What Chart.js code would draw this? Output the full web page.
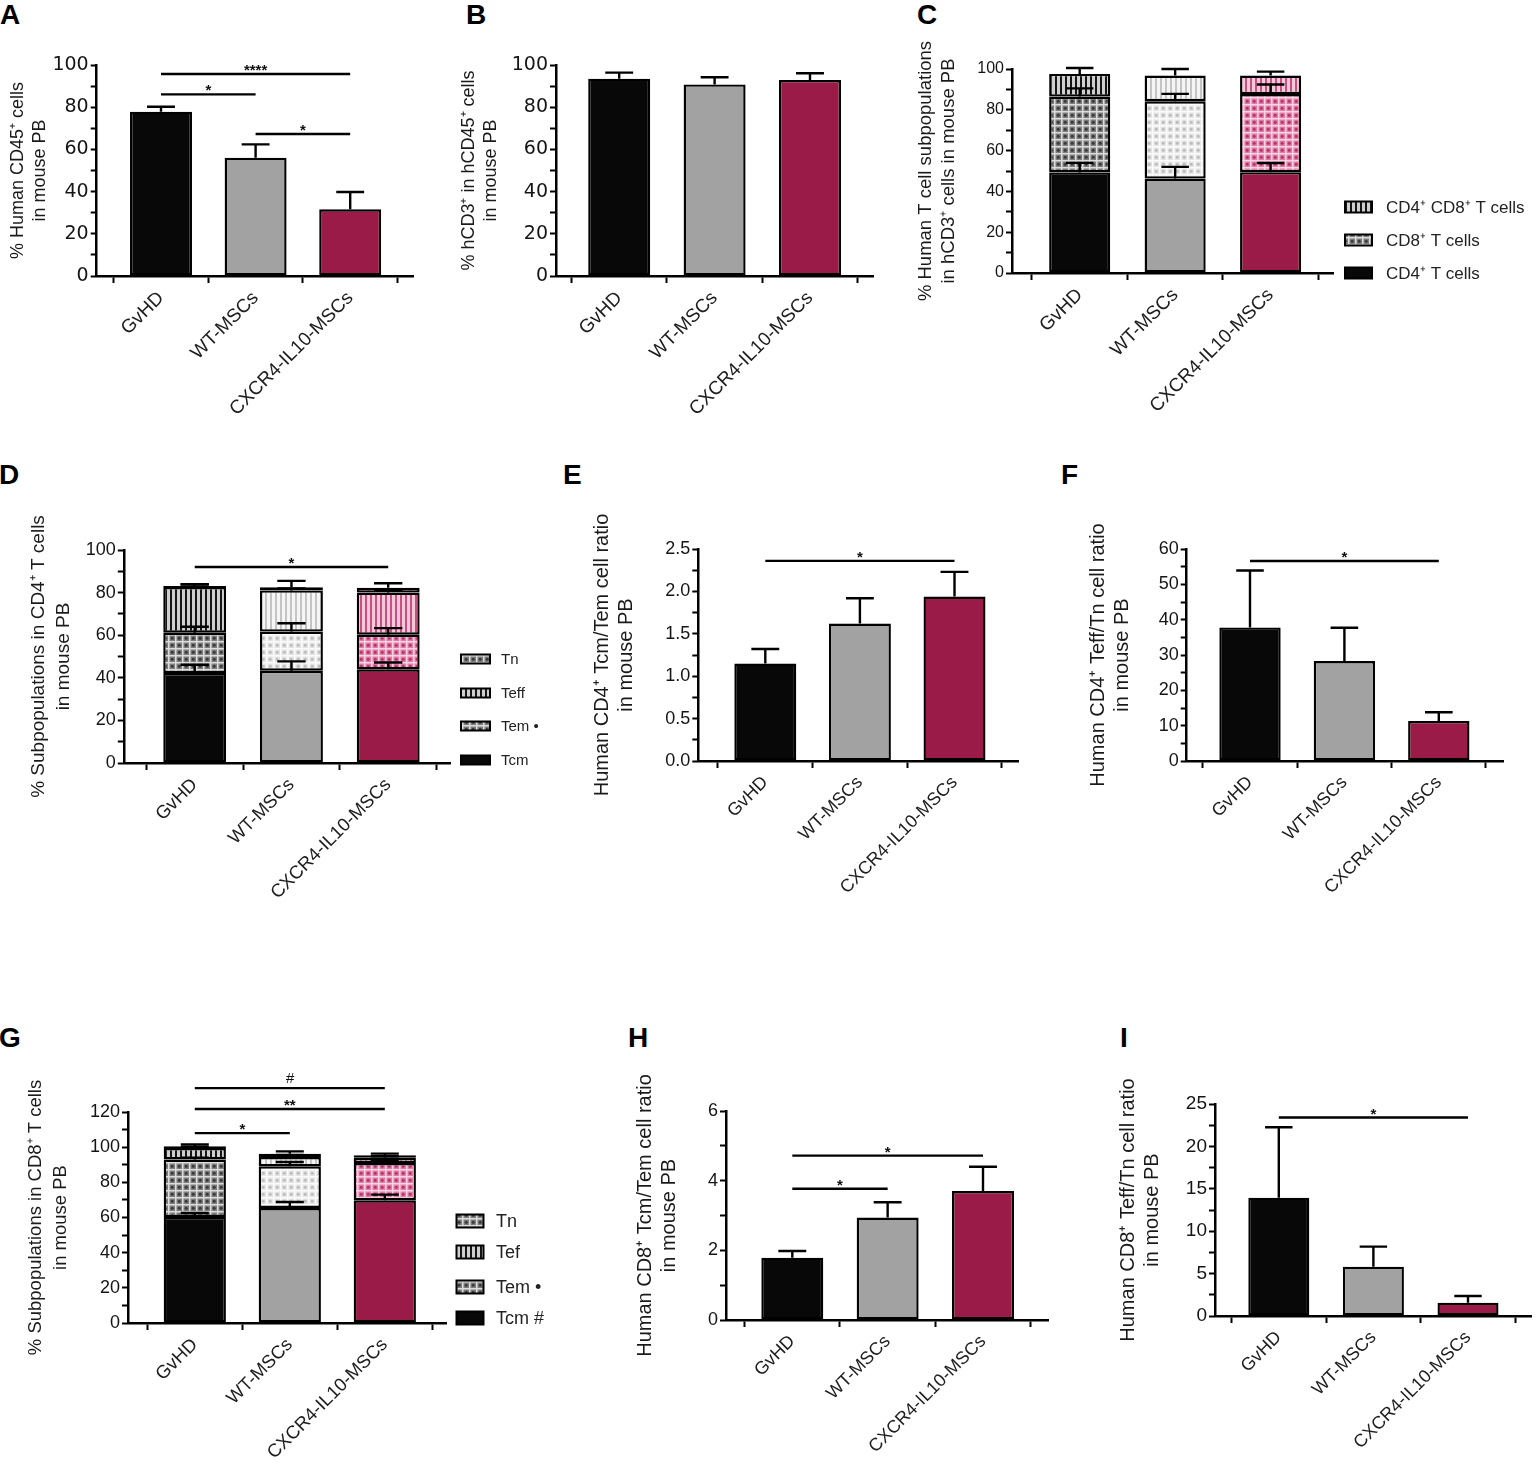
<!DOCTYPE html>
<html><head><meta charset="utf-8">
<script src="https://cdn.jsdelivr.net/npm/chart.js@4"></script>
<style>
html,body{margin:0;padding:0;background:#fff;}
body{width:1537px;height:1468px;position:relative;overflow:hidden;font-family:'Liberation Sans',Arial,sans-serif;}
canvas{position:absolute;}
.lbl{position:absolute;font-weight:bold;font-size:28px;line-height:28px;color:#000;font-family:'Liberation Sans',Arial,sans-serif;}
</style></head><body>
<div class="lbl" style="left:0px;top:1px">A</div>
<div class="lbl" style="left:466px;top:1px">B</div>
<div class="lbl" style="left:917px;top:1px">C</div>
<div class="lbl" style="left:-1px;top:461px">D</div>
<div class="lbl" style="left:563px;top:461px">E</div>
<div class="lbl" style="left:1061px;top:461px">F</div>
<div class="lbl" style="left:-1px;top:1024px">G</div>
<div class="lbl" style="left:628px;top:1024px">H</div>
<div class="lbl" style="left:1120px;top:1024px">I</div>
<script>
Chart.defaults.animation = false;
Chart.defaults.events = [];
Chart.defaults.font.family = "'Liberation Sans', Arial, sans-serif";
Chart.defaults.color = '#151515';

const categories = ['GvHD', 'WT-MSCs', 'CXCR4-IL10-MSCs'];

// A
const ticksA = [0, 20, 40, 60, 80, 100];
const cd45Mean = [77.9, 56.1, 31.6];
const cd45Sem = [2.3, 6.3, 8.2];
const sigA = [[0, 2, 95.7, '****'], [0, 1, 86.1, '*'], [1, 2, 67.3, '*']];
// B
const ticksB = [0, 20, 40, 60, 80, 100];
const cd3Mean = [93.5, 90.8, 92.9];
const cd3Sem = [2.9, 3.4, 3.2];
// C
const ticksC = [0, 20, 40, 60, 80, 100];
const seriesC = ['CD4⁺ T cells', 'CD8⁺ T cells', 'CD4⁺ CD8⁺ T cells'];
const cCd4 = [49.3, 46.3, 49.4], cCd4Sem = [4.7, 5.7, 4.5];
const cCd8 = [37.2, 37.9, 38.3], cCd8Sem = [4.0, 3.6, 4.7];
const cDp = [11.1, 12.6, 9.1], cDpSem = [2.9, 3.2, 1.9];
// D
const ticksD = [0, 20, 40, 60, 80, 100];
const seriesD = ['Tcm', 'Tem •', 'Teff', 'Tn'];
const dTcm = [42.2, 43.3, 44.0], dTcmSem = [3.9, 4.4, 3.2];
const dTem = [19.0, 18.4, 16.2], dTemSem = [2.8, 3.9, 3.1];
const dTeff = [21.4, 19.3, 19.8], dTeffSem = [1.2, 1.0, 1.0];
const dTn = [0.5, 1.5, 2.3], dTnSem = [0.8, 3.0, 2.1];
const sigD = [[0, 2, 92, '*']];
// E
const ticksE = [0, 0.5, 1, 1.5, 2, 2.5];
const eRatio = [1.15, 1.62, 1.94], eSem = [0.17, 0.30, 0.29];
const sigE = [[0, 2, 2.36, '*']];
// F
const ticksF = [0, 10, 20, 30, 40, 50, 60];
const fRatio = [37.8, 28.3, 11.3], fSem = [16.1, 9.4, 2.5];
const sigF = [[0, 2, 56.6, '*']];
// G
const ticksG = [0, 20, 40, 60, 80, 100, 120];
const seriesG = ['Tcm #', 'Tem •', 'Tef', 'Tn'];
const gTcm = [60.3, 65.4, 69.8], gTcmSem = [2.3, 3.4, 3.2];
const gTem = [32.7, 23.7, 21.2], gTemSem = [1.0, 2.5, 1.5];
const gTef = [6.5, 5.3, 3.0], gTefSem = [0.6, 1.2, 0.8];
const gTn = [1.0, 1.9, 1.4], gTnSem = [1.0, 1.3, 0.9];
const sigG = [[0, 2, 133.6, '#'], [0, 2, 121.7, '**'], [0, 1, 108, '*']];
// H
const ticksH = [0, 2, 4, 6];
const hRatio = [1.79, 2.94, 3.70], hSem = [0.19, 0.44, 0.70];
const sigH = [[0, 2, 4.72, '*'], [0, 1, 3.77, '*']];
// I
const ticksI = [0, 5, 10, 15, 20, 25];
const iRatio = [13.95, 5.82, 1.57], iSem = [8.3, 2.36, 0.79];
const sigI = [[0, 2, 23.4, '*']];

// ---------- styles ----------
const barColors = ['#080808', '#a2a2a2', '#9a1b47'];
function checker(base, line, dot) {
  const n = 7, c = document.createElement('canvas'); c.width = n; c.height = n;
  const g = c.getContext('2d');
  g.fillStyle = base; g.fillRect(0, 0, n, n);
  g.fillStyle = line; g.fillRect(0, 0, n, 1.5); g.fillRect(0, 0, 1.5, n);
  g.fillStyle = dot; g.beginPath(); g.arc(4.2, 4.2, 1.5, 0, Math.PI * 2); g.fill();
  return g.createPattern(c, 'repeat');
}
function stripes(bg, line) {
  const n = 5, c = document.createElement('canvas'); c.width = n; c.height = n;
  const g = c.getContext('2d');
  g.fillStyle = bg; g.fillRect(0, 0, n, n);
  g.fillStyle = line; g.fillRect(0, 0, 2, n);
  return g.createPattern(c, 'repeat');
}
const checkerFills = [checker('#7d7d7d', '#dcdcdc', '#3a3a3a'), checker('#e4e4e4', '#fbfbfb', '#bcbcbc'), checker('#e07ba4', '#f8d5e4', '#b8336c')];
const stripeFills = [stripes('#cfcfcf', '#151515'), stripes('#f5f5f5', '#c4c4c4'), stripes('#f6c9da', '#c74f82')];

function xy(vals) { return vals.map((v, i) => ({ x: i, y: v })); }

function makeExtras(o) {
  return {
    id: 'extras',
    afterDatasetsDraw(chart) {
      const ctx = chart.ctx, ys = chart.scales.y;
      ctx.save();
      ctx.strokeStyle = '#000'; ctx.lineWidth = 2.4;
      const cum = [0, 0, 0];
      o.series.forEach((s, di) => {
        const meta = chart.getDatasetMeta(di);
        s.vals.forEach((v, i) => {
          cum[i] += v;
          const bar = meta.data[i];
          const yTop = ys.getPixelForValue(cum[i]);
          const yErr = ys.getPixelForValue(cum[i] + s.sem[i]);
          const half = bar.width * 0.45 / 2;
          ctx.beginPath();
          ctx.moveTo(bar.x, yTop); ctx.lineTo(bar.x, yErr);
          ctx.moveTo(bar.x - half, yErr); ctx.lineTo(bar.x + half, yErr);
          ctx.stroke();
        });
      });
      ctx.restore();
    },
    afterDraw(chart) {
      const ctx = chart.ctx, xs = chart.scales.x, ys = chart.scales.y;
      ctx.save();
      ctx.strokeStyle = '#000'; ctx.lineWidth = 2.4;
      (o.sig || []).forEach(([a, b, v, t]) => {
        const x0 = xs.getPixelForValue(a), x1 = xs.getPixelForValue(b), y = ys.getPixelForValue(v);
        ctx.beginPath(); ctx.moveTo(x0, y); ctx.lineTo(x1, y); ctx.stroke();
        const star = t.indexOf('*') >= 0;
        ctx.fillStyle = '#111';
        ctx.font = (star ? 'bold ' : 'italic ') + "15px 'Liberation Sans', Arial, sans-serif";
        ctx.textAlign = 'center'; ctx.textBaseline = 'alphabetic';
        ctx.fillText(t, (x0 + x1) / 2, star ? y + 1 : y - 5);
      });
      if (o.legend) {
        const L = o.legend, n = o.series.length;
        L.ys.forEach((yy, k) => {
          const di = n - 1 - k;
          const cx = L.x - o.box.left, cy = yy - o.box.top;
          ctx.fillStyle = o.series[di].fill[0];
          ctx.fillRect(cx, cy - L.h / 2, L.w, L.h);
          ctx.lineWidth = 2; ctx.strokeStyle = '#000';
          ctx.strokeRect(cx, cy - L.h / 2, L.w, L.h);
          ctx.fillStyle = '#222';
          ctx.font = L.size + "px 'Liberation Sans', Arial, sans-serif";
          ctx.textAlign = 'left'; ctx.textBaseline = 'middle';
          ctx.fillText(o.series[di].label, L.tx - o.box.left, cy + 1);
        });
      }
      ctx.restore();
    }
  };
}

function panel(o) {
  const cv = document.createElement('canvas');
  const W = o.box.right - o.box.left, H = o.box.bottom - o.box.top;
  cv.width = W; cv.height = H;
  cv.style.left = o.box.left + 'px'; cv.style.top = o.box.top + 'px';
  cv.style.width = W + 'px'; cv.style.height = H + 'px';
  document.body.appendChild(cv);
  const s = (o.c2 - o.c0) / 2;
  const xmin = (o.axis.x0 - o.c0) / s, xmax = (o.axis.x1 - o.c0) / s;
  const yW = o.axis.x0 - o.box.left;
  const xH = o.box.bottom - o.axis.yBot;
  const padTop = o.axis.yTop - o.box.top;
  const padRight = o.box.right - o.axis.x1;
  const major = o.yTicks[1] - o.yTicks[0];
  const lh = o.titleLH || 1.2;
  const lineH = o.titleSize * lh;
  const stacked = o.series.length > 1;
  new Chart(cv, {
    type: 'bar',
    data: {
      datasets: o.series.map(sr => ({
        label: sr.label, data: xy(sr.vals), backgroundColor: sr.fill,
        borderColor: '#000', borderWidth: 2.4, borderSkipped: false,
        categoryPercentage: 1, barPercentage: o.barPct
      }))
    },
    options: {
      responsive: false, maintainAspectRatio: false,
      layout: { padding: { left: 0, top: padTop, right: padRight, bottom: 0 } },
      plugins: { legend: { display: false }, tooltip: { enabled: false } },
      scales: {
        x: {
          type: 'linear', min: xmin, max: xmax, stacked: stacked, offset: false,
          afterBuildTicks: (sc) => { sc.ticks = categories.map((c, i) => ({ value: i })); },
          ticks: { autoSkip: false, minRotation: 45, maxRotation: 45, padding: 4, color: '#1e1e1e',
            font: { size: o.catSize || 18 }, callback: (v) => categories[v] ?? '' },
          grid: { display: true, drawOnChartArea: false, drawTicks: true, tickLength: 7, tickColor: '#000', tickWidth: 2 },
          border: { display: true, color: '#000', width: 2.5 },
          afterFit: (sc) => { sc.height = xH; }
        },
        y: {
          type: 'linear', min: 0, max: o.yTicks[o.yTicks.length - 1], stacked: stacked,
          ticks: { stepSize: major / 2, autoSkip: false, padding: 2, color: '#151515',
            font: { size: o.tickSize, family: o.tickFamily },
            callback: (v) => { const k = v / major; return Math.abs(k - Math.round(k)) < 1e-6 ? o.fmt(v) : ''; } },
          grid: { display: true, drawOnChartArea: false, drawTicks: true, tickLength: 6, tickColor: '#000', tickWidth: 2 },
          border: { display: true, color: '#000', width: 2.5 },
          title: { display: true, text: o.title, color: '#1a1a1a',
            font: { size: o.titleSize, lineHeight: lh },
            padding: { top: o.titleX - o.box.left - lineH / 2, bottom: 0 } },
          afterFit: (sc) => { sc.width = yW; }
        }
      }
    },
    plugins: [makeExtras(o)]
  });
}

const intFmt = (v) => String(Math.round(v));
const famTop = "'DejaVu Sans', sans-serif", famLow = "'Liberation Sans', Arial, sans-serif";

panel({ box: { left: 0, top: 30, right: 445, bottom: 430 }, axis: { x0: 96.7, x1: 413, yTop: 65, yBot: 276 },
  c0: 161, c2: 350.2, barPct: 0.655, yTicks: ticksA, fmt: intFmt, tickSize: 19, tickFamily: famTop, catSize: 19,
  title: ['% Human CD45⁺ cells', 'in mouse PB'], titleX: 18, titleSize: 18,
  series: [{ label: 'CD45', vals: cd45Mean, sem: cd45Sem, fill: barColors }], sig: sigA });

panel({ box: { left: 455, top: 30, right: 895, bottom: 430 }, axis: { x0: 556, x1: 873, yTop: 65, yBot: 276 },
  c0: 619.2, c2: 810, barPct: 0.65, yTicks: ticksB, fmt: intFmt, tickSize: 19, tickFamily: famTop, catSize: 19,
  title: ['% hCD3⁺ in hCD45⁺ cells', 'in mouse PB'], titleX: 469, titleSize: 18,
  series: [{ label: 'CD3', vals: cd3Mean, sem: cd3Sem, fill: barColors }] });

panel({ box: { left: 900, top: 20, right: 1537, bottom: 430 }, axis: { x0: 1012, x1: 1333, yTop: 69, yBot: 273 },
  c0: 1079.7, c2: 1270.6, barPct: 0.64, yTicks: ticksC, fmt: intFmt, tickSize: 16, tickFamily: famLow, catSize: 19,
  title: ['% Human T cell subpopulations', 'in hCD3⁺ cells in mouse PB'], titleX: 926, titleSize: 18.5, titleLH: 1.24,
  series: [
    { label: seriesC[0], vals: cCd4, sem: cCd4Sem, fill: barColors },
    { label: seriesC[1], vals: cCd8, sem: cCd8Sem, fill: checkerFills },
    { label: seriesC[2], vals: cDp, sem: cDpSem, fill: stripeFills }],
  legend: { x: 1345, w: 27, h: 11, ys: [207, 240, 273], tx: 1386, size: 17 } });

panel({ box: { left: 0, top: 480, right: 556, bottom: 940 }, axis: { x0: 123.8, x1: 450.5, yTop: 550, yBot: 763 },
  c0: 194.7, c2: 388.2, barPct: 0.65, yTicks: ticksD, fmt: intFmt, tickSize: 18, tickFamily: famLow, catSize: 18.5,
  title: ['% Subpopulations in CD4⁺ T cells', 'in mouse PB'], titleX: 39, titleSize: 19, titleLH: 1.3,
  series: [
    { label: seriesD[0], vals: dTcm, sem: dTcmSem, fill: barColors },
    { label: seriesD[1], vals: dTem, sem: dTemSem, fill: checkerFills },
    { label: seriesD[2], vals: dTeff, sem: dTeffSem, fill: stripeFills },
    { label: seriesD[3], vals: dTn, sem: dTnSem, fill: checkerFills }],
  sig: sigD, legend: { x: 461, w: 29, h: 9, ys: [659, 693, 726, 760], tx: 501, size: 15 } });

panel({ box: { left: 560, top: 480, right: 1045, bottom: 940 }, axis: { x0: 698.3, x1: 1018, yTop: 549, yBot: 761 },
  c0: 765.3, c2: 954.5, barPct: 0.655, yTicks: ticksE, fmt: (v) => v.toFixed(1), tickSize: 18, tickFamily: famLow,
  title: ['Human CD4⁺ Tcm/Tem cell ratio', 'in mouse PB'], titleX: 602, titleSize: 20,
  series: [{ label: 'ratio', vals: eRatio, sem: eSem, fill: barColors }], sig: sigE });

panel({ box: { left: 1060, top: 480, right: 1537, bottom: 940 }, axis: { x0: 1186.7, x1: 1503, yTop: 549, yBot: 761 },
  c0: 1250, c2: 1438.8, barPct: 0.65, yTicks: ticksF, fmt: intFmt, tickSize: 18, tickFamily: famLow,
  title: ['Human CD4⁺ Teff/Tn cell ratio', 'in mouse PB'], titleX: 1098, titleSize: 20,
  series: [{ label: 'ratio', vals: fRatio, sem: fSem, fill: barColors }], sig: sigF });

panel({ box: { left: 0, top: 1050, right: 590, bottom: 1468 }, axis: { x0: 128, x1: 446, yTop: 1112, yBot: 1323 },
  c0: 194.8, c2: 384.8, barPct: 0.655, yTicks: ticksG, fmt: intFmt, tickSize: 18, tickFamily: famLow, catSize: 18.5,
  title: ['% Subpopulations in CD8⁺ T cells', 'in mouse PB'], titleX: 36, titleSize: 18.5, titleLH: 1.35,
  series: [
    { label: seriesG[0], vals: gTcm, sem: gTcmSem, fill: barColors },
    { label: seriesG[1], vals: gTem, sem: gTemSem, fill: checkerFills },
    { label: seriesG[2], vals: gTef, sem: gTefSem, fill: stripeFills },
    { label: seriesG[3], vals: gTn, sem: gTnSem, fill: checkerFills }],
  sig: sigG, legend: { x: 456.5, w: 27, h: 13, ys: [1221, 1252, 1287, 1318], tx: 496, size: 18 } });

panel({ box: { left: 600, top: 1050, right: 1070, bottom: 1468 }, axis: { x0: 726, x1: 1048, yTop: 1111, yBot: 1320 },
  c0: 792.3, c2: 983, barPct: 0.65, yTicks: ticksH, fmt: intFmt, tickSize: 18, tickFamily: famLow,
  title: ['Human CD8⁺ Tcm/Tem cell ratio', 'in mouse PB'], titleX: 645, titleSize: 20,
  series: [{ label: 'ratio', vals: hRatio, sem: hSem, fill: barColors }], sig: sigH });

panel({ box: { left: 1080, top: 1050, right: 1537, bottom: 1468 }, axis: { x0: 1215, x1: 1531.7, yTop: 1104, yBot: 1316 },
  c0: 1278.8, c2: 1468, barPct: 0.645, yTicks: ticksI, fmt: intFmt, tickSize: 19, tickFamily: famLow,
  title: ['Human CD8⁺ Teff/Tn cell ratio', 'in mouse PB'], titleX: 1128, titleSize: 20,
  series: [{ label: 'ratio', vals: iRatio, sem: iSem, fill: barColors }], sig: sigI });
</script>
</body></html>
